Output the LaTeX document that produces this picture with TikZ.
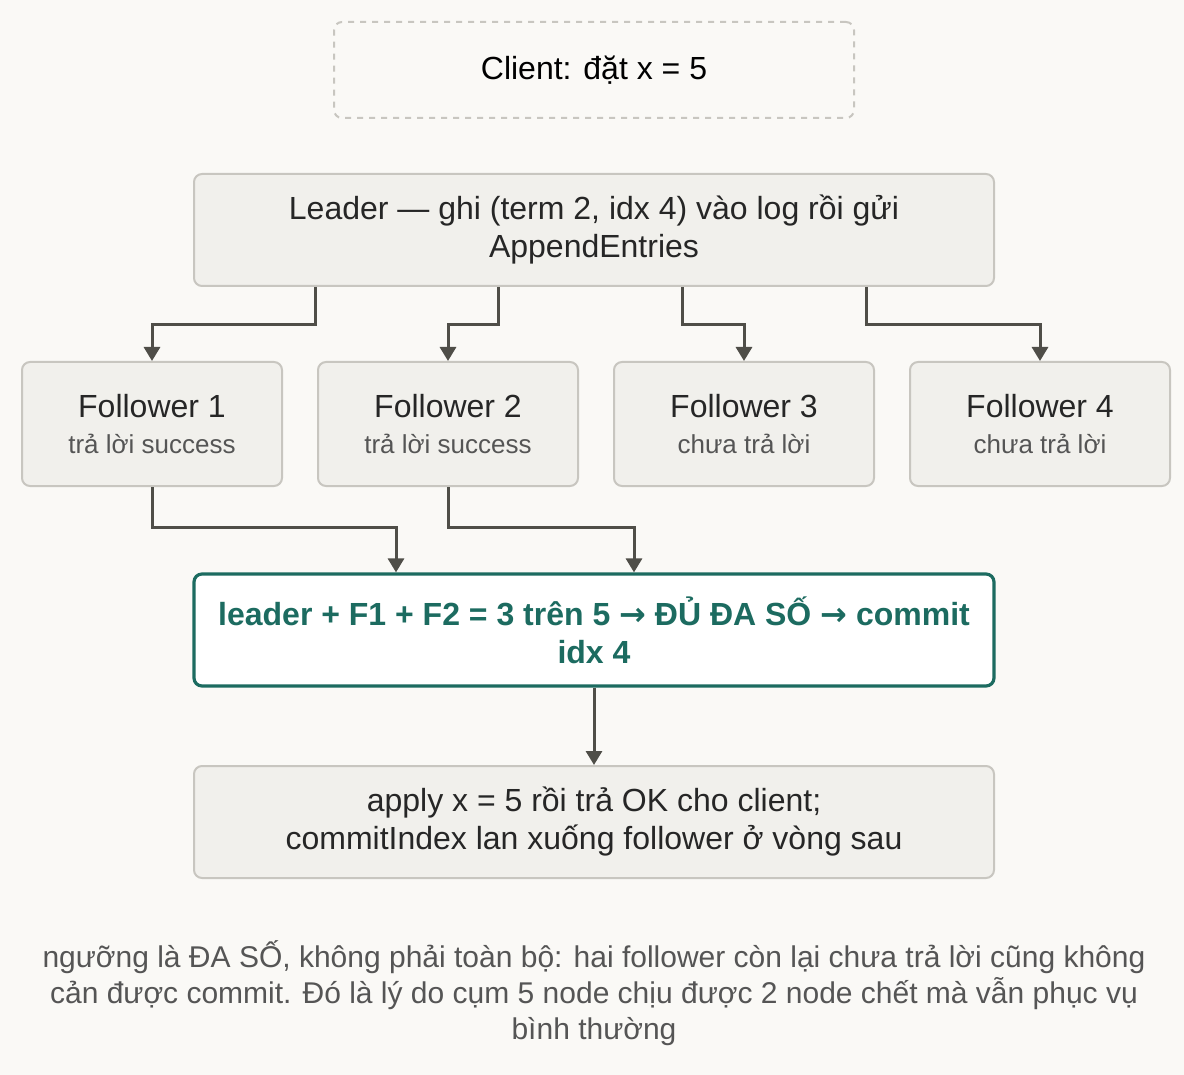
\documentclass[tikz,border=0pt]{standalone}
\usepackage{fontspec}
\setmainfont{Liberation Sans}
\newfontfamily\symfont{DejaVu Sans}
\usetikzlibrary{arrows.meta, positioning, calc}
\definecolor{bgpaper}{HTML}{FAF9F6}
\definecolor{boxfill}{HTML}{F1F0EC}
\definecolor{boxline}{HTML}{C8C6C0}
\definecolor{wire}{HTML}{4F4E48}
\definecolor{teal}{HTML}{1C6B60}
\definecolor{inkgray}{HTML}{555555}
\tikzset{
  card/.style={draw=boxline, fill=boxfill, rounded corners=4pt, line width=1pt,
    align=center, font=\fontsize{16}{19}\selectfont, text=black!85},
  follower/.style={card, minimum width=130pt, minimum height=62pt},
  wideb/.style={card, minimum width=400pt, minimum height=56pt},
  flow/.style={draw=wire, line width=1.5pt, -{Triangle[length=7pt,width=8pt]}}
}
\begin{document}
\begin{tikzpicture}[x=0.5pt,y=-0.5pt]
    % Paper
    \fill[bgpaper] (0,0) rectangle (1184,1075);
    \useasboundingbox (0,0) rectangle (1184,1075);

    % Client
    \node[draw=boxline, dashed, rounded corners=4pt, line width=1pt, minimum width=260pt,
      minimum height=48pt, font=\fontsize{16}{19}\selectfont] (client) at (594,70) {Client: đặt x = 5};

    % Leader
    \node[wideb] (leader) at (594,230) {Leader — ghi (term 2, idx 4) vào log rồi gửi\\AppendEntries};

    % Followers
    \node[follower] (f1) at (152,424) {Follower 1\\[-1pt]{\fontsize{13}{15}\selectfont\color{inkgray}trả lời success}};
    \node[follower] (f2) at (448,424) {Follower 2\\[-1pt]{\fontsize{13}{15}\selectfont\color{inkgray}trả lời success}};
    \node[follower] (f3) at (744,424) {Follower 3\\[-1pt]{\fontsize{13}{15}\selectfont\color{inkgray}chưa trả lời}};
    \node[follower] (f4) at (1040,424) {Follower 4\\[-1pt]{\fontsize{13}{15}\selectfont\color{inkgray}chưa trả lời}};

    % Commit
    \node[wideb, draw=teal, fill=white, line width=1.6pt, text=teal, font=\fontsize{16}{19}\selectfont\bfseries]
      (commit) at (594,630) {leader + F1 + F2 = 3 trên 5 {\symfont\bfseries→} ĐỦ ĐA SỐ {\symfont\bfseries→} commit\\idx 4};

    % Apply
    \node[wideb] (apply) at (594,822) {apply x = 5 rồi trả OK cho client;\\commitIndex lan xuống follower ở vòng sau};

    % Wires
    \draw[flow] ($(leader.south)+(-279,0)$) |- (152,325) -- (f1.north);
    \draw[flow] ($(leader.south)+(-96,0)$) |- (448,325) -- (f2.north);
    \draw[flow] ($(leader.south)+(88,0)$) |- (744,325) -- (f3.north);
    \draw[flow] ($(leader.south)+(272,0)$) |- (1040,325) -- (f4.north);
    \draw[flow] (f1.south) |- (396,527) -- ($(commit.north)+(-198,0)$);
    \draw[flow] (f2.south) |- (634,527) -- ($(commit.north)+(40,0)$);
    \draw[flow] (commit) -- (apply);

    % Note
    \node[align=center, text=inkgray, font=\fontsize{15}{18}\selectfont] (note) at (594,993)
      {ngưỡng là ĐA SỐ, không phải toàn bộ: hai follower còn lại chưa trả lời cũng không\\
       cản được commit. Đó là lý do cụm 5 node chịu được 2 node chết mà vẫn phục vụ\\
       bình thường};
\end{tikzpicture}
\end{document}
